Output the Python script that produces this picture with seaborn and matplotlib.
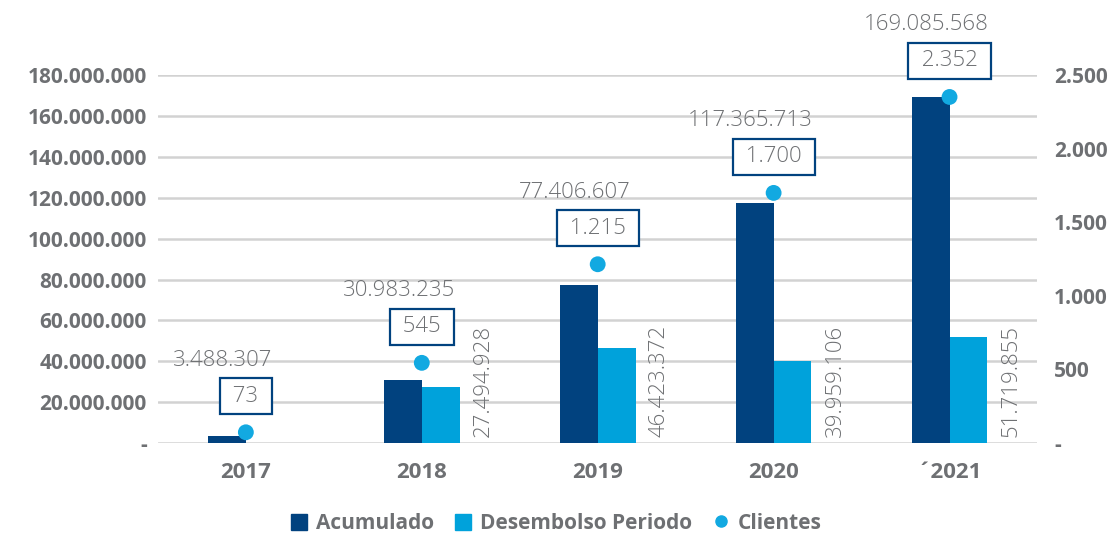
import numpy as np
import pandas as pd
import matplotlib.pyplot as plt
import seaborn as sns
from matplotlib.patches import Patch
from matplotlib.lines import Line2D

# datos
years = ['2017', '2018', '2019', '2020', '´2021']
acumulado = [3488307, 30983235, 77406607, 117365713, 169085568]
desembolso = [0, 27494928, 46423372, 39959106, 51719855]
clientes = [73, 545, 1215, 1700, 2352]

c_acum = '#01427F'
c_desem = '#00A2DB'
c_cli = '#12A9E1'
c_text = '#6E7073'
c_grid = '#D2D2D2'


def fmt(v):
    return f'{v:,.0f}'.replace(',', '.')


sns.set_style('white')
plt.rcParams['font.family'] = ['Open Sans', 'DejaVu Sans']

df = pd.DataFrame({'Año': years * 2,
                   'Serie': ['Acumulado'] * 5 + ['Desembolso Periodo'] * 5,
                   'Valor': acumulado + desembolso})

fig = plt.figure(figsize=(11.12, 5.37), dpi=100)
ax = fig.add_axes([0.142, 0.175, 0.791, 0.685])

ax.set_axisbelow(True)
ax.yaxis.grid(True, color=c_grid, linewidth=1.8)
sns.barplot(data=df, x='Año', y='Valor', hue='Serie', palette=[c_acum, c_desem],
            width=0.43, gap=0, saturation=1, linewidth=0, ax=ax, legend=False)
ax.set_xlim(-0.5, 4.5)
ax.set_ylim(0, 180000000)
ax.set_yticks(np.arange(0, 180000001, 20000000))
ax.set_yticklabels(['-'] + [fmt(v) for v in np.arange(20000000, 180000001, 20000000)])
ax.set_xlabel('')
ax.set_ylabel('')
for s in ax.spines.values():
    s.set_visible(False)
ax.tick_params(axis='y', length=0, pad=8, labelsize=15, labelcolor=c_text)
ax.tick_params(axis='x', length=0, pad=14, labelsize=16, labelcolor=c_text)
for t in ax.get_yticklabels() + ax.get_xticklabels():
    t.set_fontweight('bold')

ax2 = ax.twinx()
xpos = np.arange(len(years))
sns.scatterplot(x=xpos, y=clientes, color=c_cli, s=130, edgecolor='none', ax=ax2,
                zorder=5, clip_on=False)
ax2.set_ylim(0, 2500)
ax2.set_yticks(np.arange(0, 2501, 500))
ax2.set_yticklabels(['-'] + [fmt(v) for v in np.arange(500, 2501, 500)])
ax2.tick_params(axis='y', length=0, pad=12, labelsize=15, labelcolor=c_text)
for t in ax2.get_yticklabels():
    t.set_fontweight('bold')
for s in ax2.spines.values():
    s.set_visible(False)

w = 0.215
for i in range(len(years)):
    # caja de clientes
    ax2.annotate(' ' + fmt(clientes[i]) + ' ', (i, clientes[i]), xytext=(0, 36),
                 textcoords='offset pixels', ha='center', va='center',
                 fontsize=16, fontweight='light', color=c_text, annotation_clip=False,
                 bbox=dict(boxstyle='square,pad=0.33', fc='white', ec=c_acum, lw=1.6))
    # acumulado
    ax2.annotate(fmt(acumulado[i]), (i - w / 2, clientes[i]), xytext=(-4, 72),
                 textcoords='offset pixels', ha='center', va='center',
                 fontsize=16, fontweight='light', color=c_text, annotation_clip=False)
    # desembolso
    if desembolso[i] > 0:
        ax.annotate(fmt(desembolso[i]), (i + w, 0), xytext=(24, 6),
                    textcoords='offset pixels', ha='center', va='bottom',
                    rotation=90, fontsize=16, fontweight='light', color=c_text,
                    annotation_clip=False)

handles = [Patch(color=c_acum, label='Acumulado'),
           Patch(color=c_desem, label='Desembolso Periodo'),
           Line2D([], [], marker='o', ls='', color=c_cli, markersize=8, label='Clientes')]
leg = fig.legend(handles=handles, loc='center', bbox_to_anchor=(0.5, 0.025), ncol=3,
                 frameon=False, fontsize=15, handlelength=0.8, handleheight=0.8,
                 handletextpad=0.4, columnspacing=1.0)
for t in leg.get_texts():
    t.set_color(c_text)
    t.set_fontweight('bold')

fig.savefig('out.png', dpi=100)
